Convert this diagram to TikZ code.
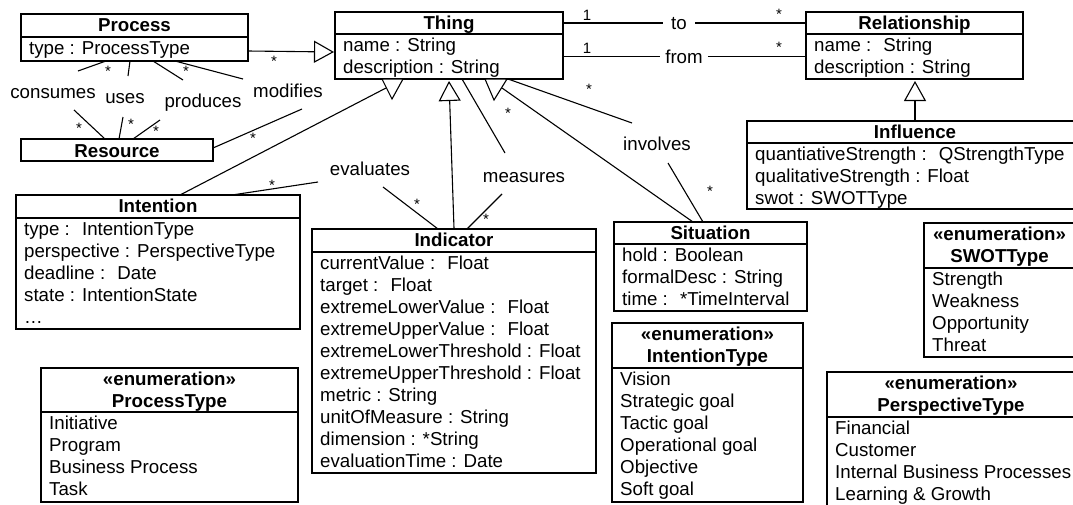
\documentclass[tikz,border=0pt]{standalone}
\usepackage{fontspec}
\setmainfont{Liberation Sans}
\usetikzlibrary{fit,arrows.meta}

\newcommand\attrfont{\fontsize{18.7}{22}\selectfont}
\newcommand\hdrfont{\fontsize{18.7}{22}\selectfont\bfseries}
\newcommand\multfont{\fontsize{15}{16}\selectfont}

% UML class: name, left, top, right, bottom, divider, header lines, attribute lines
\newcommand\umlclass[8]{%
  \node[classbox, fit={(#2,#3) (#4,#5)}] (#1) {};
  \draw[classline] (#2,#6) -- (#4,#6);
  \foreach \lab [count=\idx] in {#7}
    \node[hdr] (#1-h\idx) at ({(#2+#4)/2}, {#3+17+22*(\idx-1)}) {\lab};
  \foreach \lab [count=\idx] in {#8}
    \node[attr] (#1-a\idx) at ({#2+8}, {#6+17+22*(\idx-1)}) {\lab};
}

\begin{document}
\begin{tikzpicture}[x=1pt, y=-1pt,
  classbox/.style={draw, line width=1.4pt, inner sep=0pt},
  classline/.style={line width=1.4pt},
  hdr/.style={font=\hdrfont, inner sep=0pt, anchor=base},
  attr/.style={font=\attrfont, inner sep=0pt, anchor=base west},
  lbl/.style={font=\attrfont, inner ysep=0pt, anchor=base},
  mult/.style={font=\multfont, inner sep=0pt},
  assoc/.style={line width=1.1pt},
  gentip/.style={-{Triangle[open, length=20pt, width=22pt]}},
  genhead/.style={line width=1.1pt, fill=white, line join=miter}]

\fill[white] (0,0) rectangle (1073,504);
\useasboundingbox (0,0) rectangle (1073,504);

% ---------- classes ----------
\umlclass{process}{21}{14}{248}{61}{37}{Process}{type : ProcessType}
\node[classbox, fit={(21,139) (213,161)}] (resource) {};
\node[hdr] (resource-h1) at (117,157) {Resource};
\umlclass{thing}{335}{12}{563}{79}{34}{Thing}{name : String, description : String}
\umlclass{relationship}{806}{12}{1023}{79}{34}{Relationship}{name :~ String, description : String}
\umlclass{influence}{747}{121}{1083}{209}{143}{Influence}{quantiativeStrength :~ QStrengthType, qualitativeStrength : Float, swot : SWOTType}
\umlclass{intention}{16}{195}{300}{329}{218}{Intention}{type :~ IntentionType, perspective : PerspectiveType, deadline :~ Date, state : IntentionState, \ldots}
\umlclass{indicator}{312}{229}{596}{473}{252}{Indicator}{currentValue :~ Float, target :~ Float, extremeLowerValue :~ Float, extremeUpperValue :~ Float, extremeLowerThreshold : Float, extremeUpperThreshold : Float, metric : String, unitOfMeasure : String, dimension : *String, evaluationTime : Date}
\umlclass{situation}{614}{222}{807}{311}{244}{Situation}{hold : Boolean, formalDesc : String, time :~ *TimeInterval}
\umlclass{intentiontype}{612}{323}{803}{502}{368}{«enumeration», IntentionType}{Vision, Strategic goal, Tactic goal, Operational goal, Objective, Soft goal}
\umlclass{swottype}{924}{223}{1075}{357}{268}{«enumeration», SWOTType}{Strength, Weakness, Opportunity, Threat}
\umlclass{perspectivetype}{827}{372}{1075}{510}{417}{«enumeration», PerspectiveType}{Financial, Customer, Internal Business Processes, Learning \& Growth}
\umlclass{processtype}{41}{368}{298}{502}{412}{«enumeration», ProcessType}{Initiative, Program, Business Process, Task}

% ---------- generalizations ----------
\coordinate (gen-p) at (248,51);
\coordinate (gen-p-top) at (334,52);
\draw[assoc, gentip] (gen-p) -- (gen-p-top);

\coordinate (gen-ind-top) at (449,81);
\draw[assoc, gentip] (indicator.north) -- (gen-ind-top);

\coordinate (gen-inf-top) at (915,81);
\draw[assoc, gentip] (influence.north) -- (gen-inf-top);

\coordinate (gen-int) at (180,195);
\coordinate (gen-int-top) at (386,88);
\draw[assoc] (gen-int) -- (gen-int-top);
\draw[genhead] (382,79) -- (403,79) -- (392,99) -- cycle;

\coordinate (gen-sit) at (693,222);
\coordinate (gen-sit-top) at (502,88);
\draw[assoc] (gen-sit) -- (gen-sit-top);
\draw[genhead] (485,79) -- (507,79) -- (494,100) -- cycle;

% ---------- Thing -- Relationship ----------
\node[lbl, inner xsep=8pt] (l-to) at (679,29) {to};
\node[lbl, inner xsep=5pt] (l-from) at (684,63) {from};
\draw[assoc] (thing.east |- l-to) -- (l-to) -- (l-to -| relationship.west);
\draw[assoc] (thing.east |- l-from) -- (l-from) -- (l-from -| relationship.west);

% ---------- Process -- Resource ----------
\node[lbl] (l-cons) at (53,98) {consumes};
\node[lbl] (l-uses) at (125,103) {uses};
\node[lbl] (l-prod) at (203,107) {produces};
\node[lbl] (l-mod) at (288,97) {modifies};

\coordinate (cons-a) at (106,61); \coordinate (cons-b) at (78,71);
\coordinate (cons-c) at (74,110); \coordinate (cons-d) at (105,139);
\coordinate (uses-a) at (130,61); \coordinate (uses-b) at (128,76);
\coordinate (uses-c) at (123,117); \coordinate (uses-d) at (119,139);
\coordinate (prod-a) at (153,61); \coordinate (prod-b) at (183,80);
\coordinate (prod-c) at (160,120); \coordinate (prod-d) at (133,139);
\coordinate (mod-a) at (175,61); \coordinate (mod-b) at (243,79);
\coordinate (mod-c) at (302,109); \coordinate (mod-d) at (213,148);
\foreach \r in {cons, uses, prod, mod} {
  \draw[assoc] (\r-a) -- (\r-b);
  \draw[assoc] (\r-c) -- (\r-d);
}

% ---------- evaluates / measures / involves ----------
\node[lbl] (l-eval) at (370,175) {evaluates};
\node[lbl] (l-meas) at (524,182) {measures};
\node[lbl] (l-inv) at (657,150) {involves};

\coordinate (eval-a) at (232,195); \coordinate (eval-b) at (318,182);
\coordinate (eval-c) at (383,187); \coordinate (eval-d) at (438,229);
\coordinate (meas-a) at (462,79); \coordinate (meas-b) at (505,153);
\coordinate (meas-c) at (502,194); \coordinate (meas-d) at (467,229);
\coordinate (inv-a) at (508,79); \coordinate (inv-b) at (632,123);
\coordinate (inv-c) at (668,163); \coordinate (inv-d) at (703,222);
\foreach \r in {eval, meas, inv} {
  \draw[assoc] (\r-a) -- (\r-b);
  \draw[assoc] (\r-c) -- (\r-d);
}

% ---------- multiplicities ----------
\node[mult] (one-to) at (587,15) {1};
\node[mult] (one-from) at (587,48) {1};
\foreach \p [count=\k] in {(274,61), (108,71), (186,71), (79,128), (131,124),
    (156,131), (253,138), (779,14), (779,47), (272,185), (417,204),
    (486,219), (508,113), (589,89), (710,191)}
  \node[mult] (many-\k) at \p {*};

\end{tikzpicture}
\end{document}
